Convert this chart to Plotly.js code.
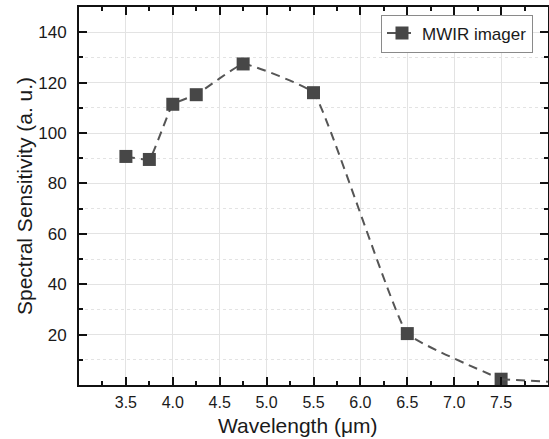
<!DOCTYPE html>
<html>
<head>
<meta charset="utf-8">
<script src="https://cdn.plot.ly/plotly-3.0.1.min.js"></script>
<style>html,body{margin:0;padding:0;background:#fff;}#chart{width:549px;height:439px;}</style>
</head>
<body>
<div id="chart"></div>
<script>
// Data
var wavelength = [3.5, 3.75, 4.0, 4.25, 4.75, 5.5, 6.5, 7.5];
var sensitivity = [90.7, 89.5, 111.4, 115.2, 127.4, 116.0, 20.4, 2.3];
// line continues to the right edge of the frame
var tailWavelength = [7.5, 8.0];
var tailSensitivity = [2.3, 1.3];
var xTickVals = [3.5, 4.0, 4.5, 5.0, 5.5, 6.0, 6.5, 7.0, 7.5];
var xTickText = ['3.5', '4.0', '4.5', '5.0', '5.5', '6.0', '6.5', '7.0', '7.5'];
var yTickVals = [20, 40, 60, 80, 100, 120, 140];
var seriesName = 'MWIR imager';
var xTitle = 'Wavelength (μm)';
var yTitle = 'Spectral Sensitivity (a. u.)';

var FONT = 'Liberation Sans, Arial, sans-serif';
var lineColor = '#555555';
var markerColor = '#474747';

var traces = [
  {
    x: wavelength, y: sensitivity, name: seriesName,
    type: 'scatter', mode: 'lines+markers',
    line: {color: lineColor, width: 2, dash: '9px,6px', shape: 'spline', smoothing: 0.3},
    marker: {symbol: 'square', size: 13, color: markerColor}
  },
  {
    x: tailWavelength, y: tailSensitivity, showlegend: false,
    type: 'scatter', mode: 'lines', hoverinfo: 'skip',
    line: {color: lineColor, width: 2, dash: '9px,6px'}
  }
];

var axisCommon = {
  showline: true, linecolor: '#111', linewidth: 2, mirror: 'allticks',
  ticks: 'inside', ticklen: 8, tickwidth: 2, tickcolor: '#111',
  showgrid: true, gridcolor: '#e3e3e3', gridwidth: 1,
  zeroline: false,
  tickfont: {family: FONT, size: 16, color: '#1a1a1a'}
};

var layout = {
  width: 549, height: 439,
  margin: {l: 79, r: 1, t: 7, b: 54},
  paper_bgcolor: '#fff', plot_bgcolor: '#fff',
  showlegend: true,
  legend: {
    x: 0.968, xanchor: 'right', y: 0.98, yanchor: 'top',
    bgcolor: '#fff', bordercolor: '#8a8a8a', borderwidth: 1,
    font: {family: FONT, size: 17, color: '#1a1a1a'},
    tracegroupgap: 0
  },
  xaxis: Object.assign({}, axisCommon, {
    range: [3, 8], tickmode: 'array', tickvals: xTickVals, ticktext: xTickText,
    ticklabelstandoff: 2,
    minor: {tickmode: 'linear', tick0: 3, dtick: 0.25, ticks: 'inside', ticklen: 4, tickwidth: 2, tickcolor: '#111', showgrid: false}
  }),
  yaxis: Object.assign({}, axisCommon, {
    range: [0, 150], tickmode: 'array', tickvals: yTickVals,
    ticklabelstandoff: 7,
    tickfont: {family: FONT, size: 17, color: '#1a1a1a'},
    minor: {tickmode: 'linear', tick0: 0, dtick: 10, ticks: 'inside', ticklen: 4, tickwidth: 2, tickcolor: '#111',
            showgrid: true, gridcolor: '#e3e3e3', gridwidth: 1, griddash: 'dot'}
  }),
  annotations: [
    {text: xTitle, xref: 'paper', yref: 'paper', x: (298 - 79) / 469, y: 0, yshift: -40,
     xanchor: 'center', yanchor: 'middle', showarrow: false,
     font: {family: FONT, size: 21, color: '#1a1a1a'}},
    {text: yTitle, xref: 'paper', yref: 'paper', x: 0, xshift: -55, y: 0.5,
     xanchor: 'center', yanchor: 'middle', showarrow: false, textangle: -90,
     font: {family: FONT, size: 21, color: '#1a1a1a'}}
  ]
};

Plotly.newPlot('chart', traces, layout, {displayModeBar: false, staticPlot: true});
</script>
</body>
</html>
